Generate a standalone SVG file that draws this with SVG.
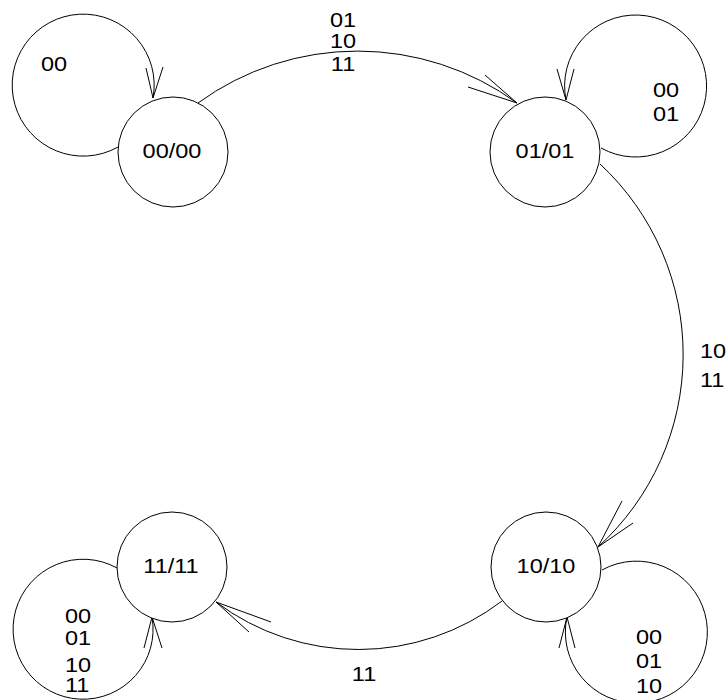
<svg xmlns="http://www.w3.org/2000/svg" width="728" height="700" viewBox="0 0 728 700">
<style>
.st{fill:#fff;stroke:#000;stroke-width:1}
.c{fill:none;stroke:#000;stroke-width:1}
text{font-family:"Liberation Sans",Arial,sans-serif;font-size:21px;fill:#000}
.m{text-anchor:middle}
</style>
<rect width="728" height="700" fill="#fff"/>
<g id="connectors">
  <path class="c" d="M198,103 A271,271 0 0 1 517,103"/>
  <polyline class="c" points="485,75 517,103 468,87"/>
  <g transform="translate(343,27) scale(1.12,1)"><text class="m">01</text></g>
  <g transform="translate(343,48) scale(1.12,1)"><text class="m">10</text></g>
  <g transform="translate(343,71) scale(1.12,1)"><text class="m">11</text></g>

  <path class="c" d="M600,164 A260,260 0 0 1 598,547"/>
  <polyline class="c" points="622,501 598,547 633,523"/>
  <g transform="translate(700,358) scale(1.12,1)"><text>10</text></g>
  <g transform="translate(700,387) scale(1.12,1)"><text>11</text></g>

  <path class="c" d="M502,601 A237,237 0 0 1 216,602"/>
  <polyline class="c" points="271,622 216,602 249,632"/>
  <g transform="translate(364,681) scale(1.12,1)"><text class="m">11</text></g>

  <path class="c" d="M118,147 A71,71 0 1 1 153,98"/>
  <polyline class="c" points="146,68 153,98 163,67"/>
  <g transform="translate(41,71) scale(1.12,1)"><text>00</text></g>

  <path class="c" d="M601,148 A71,71 0 1 0 566,100"/>
  <polyline class="c" points="557,69 566,100 574,69"/>
  <g transform="translate(653,97) scale(1.12,1)"><text>00</text></g>
  <g transform="translate(653,121) scale(1.12,1)"><text>01</text></g>

  <path class="c" d="M117,568 A70,70 0 1 0 152,617"/>
  <polyline class="c" points="144,648 152,617 162,648"/>
  <g transform="translate(65,623) scale(1.12,1)"><text>00</text></g>
  <g transform="translate(65,645) scale(1.12,1)"><text>01</text></g>
  <g transform="translate(65,672) scale(1.12,1)"><text>10</text></g>
  <g transform="translate(65,692) scale(1.12,1)"><text>11</text></g>

  <path class="c" d="M602,570 A71,71 0 1 1 567,617"/>
  <polyline class="c" points="559,648 567,617 575,648"/>
  <g transform="translate(636,644) scale(1.12,1)"><text>00</text></g>
  <g transform="translate(636,668) scale(1.12,1)"><text>01</text></g>
  <g transform="translate(636,693) scale(1.12,1)"><text>10</text></g>
</g>
<g id="s00">
  <circle class="st" cx="173" cy="152" r="55"/>
  <g transform="translate(172,158) scale(1.12,1)"><text class="m">00/00</text></g>
</g>
<g id="s01">
  <circle class="st" cx="545" cy="152" r="55"/>
  <g transform="translate(545,158) scale(1.12,1)"><text class="m">01/01</text></g>
</g>
<g id="s11">
  <circle class="st" cx="172" cy="567" r="55"/>
  <g transform="translate(171,573) scale(1.12,1)"><text class="m">11/11</text></g>
</g>
<g id="s10">
  <circle class="st" cx="546" cy="567" r="55"/>
  <g transform="translate(546,573) scale(1.12,1)"><text class="m">10/10</text></g>
</g>
</svg>
